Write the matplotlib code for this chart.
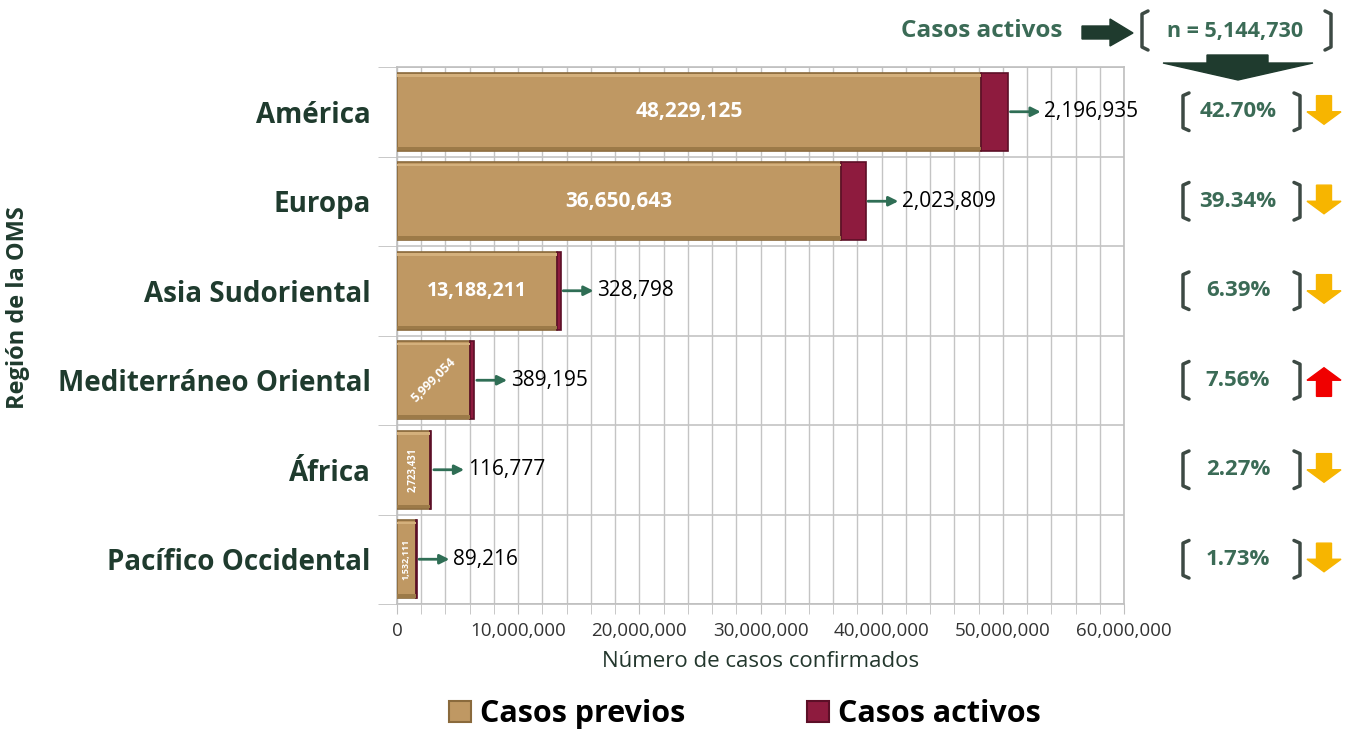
import numpy as np
import matplotlib
matplotlib.use('Agg')
import matplotlib.pyplot as plt
import matplotlib.transforms as mtransforms
from matplotlib.patches import Patch, Polygon
from matplotlib.ticker import MultipleLocator, FuncFormatter

plt.rcParams['font.family'] = ['Open Sans', 'DejaVu Sans']

regions = ['América', 'Europa', 'Asia Sudoriental', 'Mediterráneo Oriental',
           'África', 'Pacífico Occidental']
previos = [48229125, 36650643, 13188211, 5999054, 2723431, 1532111]
activos = [2196935, 2023809, 328798, 389195, 116777, 89216]
pct_activos = [42.70, 39.34, 6.39, 7.56, 2.27, 1.73]
tendencia = ['down', 'down', 'down', 'up', 'down', 'down']
total_activos = 5144730

TAN = '#bf9863'
TAN_DARK = '#8a6a3c'
TAN_LIGHT = '#d4b07c'
MAROON = '#8e1b3e'
MAROON_DARK = '#5c0f27'
GREEN = '#3b6b56'
DARK_GREEN = '#1f3b2e'
ARROW_GREEN = '#2f6e55'

W, H = 1358, 730
fig = plt.figure(figsize=(W / 100, H / 100), dpi=100)
ax = fig.add_axes([397 / W, 1 - 604 / H, 727 / W, 537 / H])

y = np.arange(len(regions))
bh = 0.87

# main bars with a light bevel look
ax.barh(y, previos, height=bh, color=TAN, edgecolor=TAN_DARK, linewidth=1.2, zorder=3)
ax.barh(y - bh / 2 + 0.03, previos, height=0.03, color=TAN_LIGHT, linewidth=0, zorder=4)
ax.barh(y + bh / 2 - 0.025, previos, height=0.035, color='#9c7a48', linewidth=0, zorder=4)
ax.barh(y, activos, left=previos, height=bh, color=MAROON, edgecolor=MAROON_DARK,
        linewidth=1.2, zorder=3)

# values inside the previous-cases bars
inner_rot = [0, 0, 0, 45, 90, 90]
inner_size = [15, 15, 14, 9, 7, 6.5]
for i, (p, r, s) in enumerate(zip(previos, inner_rot, inner_size)):
    ax.text(p / 2, i, f'{p:,}', color='white', fontsize=s, fontweight='bold',
            rotation=r, ha='center', va='center', zorder=5)

# arrows + active-case labels
for i, (p, a) in enumerate(zip(previos, activos)):
    end = p + a
    ax.annotate('', xy=(end + 2.7e6, i), xytext=(end + 0.2e6, i),
                arrowprops=dict(arrowstyle='-|>', color=ARROW_GREEN, lw=2,
                                mutation_scale=14, shrinkA=0, shrinkB=0),
                zorder=5)
    ax.text(end + 3.0e6, i, f'{a:,}', color='black', fontsize=15,
            ha='left', va='center', zorder=5)

ax.set_xlim(0, 60e6)
ax.set_ylim(len(regions) - 0.5, -0.5)
ax.set_yticks(y)
ax.set_yticklabels(regions, fontsize=20, fontweight='bold', color=DARK_GREEN)
ax.set_yticks(np.arange(len(regions) + 1) - 0.5, minor=True)
ax.tick_params(axis='y', which='major', length=0, pad=19)
ax.tick_params(axis='y', which='minor', length=14, color='#bfbfbf')
ax.xaxis.set_major_locator(MultipleLocator(10e6))
ax.xaxis.set_minor_locator(MultipleLocator(2e6))
ax.xaxis.set_major_formatter(FuncFormatter(lambda v, _: f'{int(v):,}'))
ax.tick_params(axis='x', which='both', length=7, color='#bfbfbf', labelsize=13.5,
               labelcolor='#333333', pad=6)
ax.grid(axis='x', which='both', color='#c4c4c4', lw=1, zorder=0)
ax.grid(axis='y', which='minor', color='#c4c4c4', lw=1.2, zorder=0)
for sp in ax.spines.values():
    sp.set_color('#bfbfbf')
    sp.set_linewidth(1.2)

ax.set_xlabel('Número de casos confirmados', fontsize=16, color='#23372d', labelpad=8)
fig.text(18 / W, 1 - 308 / H, 'Región de la OMS', rotation=90, fontsize=17,
         fontweight='bold', color=DARK_GREEN, ha='center', va='center')

# right-hand percentages with brackets and trend arrows
trans = mtransforms.blended_transform_factory(fig.transFigure, ax.transData)


def bracket(x0, x1, yc, half, tr, lw=2.5):
    hook = 6 / W
    for xs, d in ((x0, 1), (x1, -1)):
        ax.plot([xs + d * hook, xs, xs, xs + d * hook],
                [yc - half, yc - half + 0.03, yc + half - 0.03, yc + half],
                color='#3d4a44', lw=lw, transform=tr, clip_on=False,
                solid_capstyle='round', solid_joinstyle='round')


def block_arrow(xc, yc, direction, color, tr):
    # x in figure fraction, y in data units
    hw, sw = 17 / W, 7.5 / W
    hh, sh = 0.14, 0.18
    d = 1 if direction == 'down' else -1
    top = yc - d * sh
    neck = yc
    tip = yc + d * hh
    pts = [(xc - sw, top), (xc + sw, top), (xc + sw, neck), (xc + hw, neck),
           (xc, tip), (xc - hw, neck), (xc - sw, neck)]
    ax.add_patch(Polygon(pts, closed=True, color=color, transform=tr, clip_on=False))


for i, (pc, t) in enumerate(zip(pct_activos, tendencia)):
    bracket(1183 / W, 1300 / W, i, 0.21, trans)
    ax.text(1238 / W, i, f'{pc:.2f}%', transform=trans, fontsize=16,
            fontweight='bold', color=GREEN, ha='center', va='center', clip_on=False)
    block_arrow(1324 / W, i, t, '#f7b500' if t == 'down' else '#f00000', trans)

# header: total active cases
fig.text(982 / W, 1 - 31 / H, 'Casos activos', fontsize=17.5, fontweight='bold',
         color=GREEN, ha='center', va='center')
ftr = fig.transFigure
fig.patches.append(Polygon(
    [(1082 / W, 1 - 26 / H), (1110 / W, 1 - 26 / H), (1110 / W, 1 - 19 / H),
     (1133 / W, 1 - 33 / H), (1110 / W, 1 - 46 / H), (1110 / W, 1 - 39 / H),
     (1082 / W, 1 - 39 / H)], closed=True, color=DARK_GREEN, transform=ftr))
for xs, d in ((1142 / W, 1), (1331 / W, -1)):
    fig.lines.append(plt.Line2D(
        [xs + d * 6 / W, xs, xs, xs + d * 6 / W],
        [1 - 11 / H, 1 - 14 / H, 1 - 47 / H, 1 - 50 / H],
        color='#3d4a44', lw=2.5, transform=ftr, solid_capstyle='round'))
fig.text(1235 / W, 1 - 31 / H, f'n = {total_activos:,}', fontsize=15.5,
         fontweight='bold', color=GREEN, ha='center', va='center')
fig.patches.append(Polygon(
    [(1207 / W, 1 - 55 / H), (1268 / W, 1 - 55 / H), (1268 / W, 1 - 63 / H),
     (1313 / W, 1 - 63 / H), (1238 / W, 1 - 80 / H), (1163 / W, 1 - 63 / H),
     (1207 / W, 1 - 63 / H)], closed=True, color=DARK_GREEN, transform=ftr))

handles = [Patch(facecolor=TAN, edgecolor=TAN_DARK, lw=1.5),
           Patch(facecolor=MAROON, edgecolor=MAROON_DARK, lw=1.5)]
fig.legend(handles, ['Casos previos', 'Casos activos'], loc='center',
           bbox_to_anchor=(745 / W, 1 - 714 / H), ncol=2, frameon=False,
           prop={'size': 22, 'weight': 'bold'}, columnspacing=4,
           handlelength=0.7, handleheight=0.7, handletextpad=0.3)

fig.savefig('out.png', dpi=100)
